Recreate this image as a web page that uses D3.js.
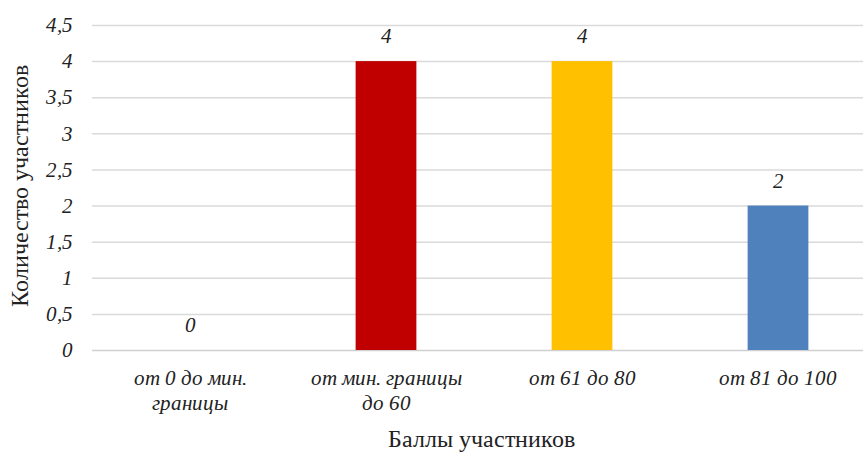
<!DOCTYPE html>
<html>
<head>
<meta charset="utf-8">
<script src="https://cdn.jsdelivr.net/npm/d3@7"></script>
<style>
  @font-face { font-family: "ChartSerif"; font-style: normal; font-weight: 400;
    src: local("Liberation Serif"), local("LiberationSerif"), local("Liberation Serif Regular"), local("LiberationSerif-Regular"); }
  @font-face { font-family: "ChartSerif"; font-style: italic; font-weight: 400;
    src: local("Liberation Serif Italic"), local("LiberationSerif-Italic"); }
  html, body { margin: 0; padding: 0; background: #fff; }
  svg { display: block; }
  svg text { font-family: "ChartSerif", "Liberation Serif"; }
</style>
</head>
<body>
<svg id="chart" width="863" height="453"></svg>
<script>
// Распределение участников по баллам
const categories = [
  ["от 0 до мин.", "границы"],
  ["от мин. границы", "до 60"],
  ["от 61 до 80"],
  ["от 81 до 100"]
];
const values = [0, 4, 4, 2];
const colors = ["#4F81BD", "#C00000", "#FFC000", "#4F81BD"];
const yTicks = [0, 0.5, 1, 1.5, 2, 2.5, 3, 3.5, 4, 4.5];

const W = 863;
const svg = d3.select("#chart");

const x = d3.scaleBand()
  .domain(d3.range(categories.length))
  .range([92, 876])
  .paddingInner(0.69)
  .paddingOuter(0.345);

const y = d3.scaleLinear().domain([0, 4.5]).range([350, 25]);

const fmt = v => String(v).replace(".", ",");

// Горизонтальная сетка
svg.append("g")
  .selectAll("line")
  .data(yTicks)
  .join("line")
  .attr("x1", 92).attr("x2", W)
  .attr("y1", d => y(d) + 0.5).attr("y2", d => y(d) + 0.5)
  .attr("stroke", d => d === 0 ? "#d0d0d0" : "#dadada")
  .attr("stroke-width", 1.5);

// Подписи оси Y
const yAxis = d3.axisLeft(y).tickValues(yTicks).tickFormat(fmt).tickSize(0).tickPadding(0);
const gy = svg.append("g").attr("transform", "translate(73,0)").call(yAxis);
gy.select(".domain").remove();
gy.attr("font-family", null).attr("font-size", null);
gy.selectAll("text")
  .attr("font-size", 21)
  .attr("font-style", "italic")
  .attr("fill", "#222");

// Столбцы
svg.append("g")
  .selectAll("rect")
  .data(values)
  .join("rect")
  .attr("x", (d, i) => x(i))
  .attr("width", x.bandwidth())
  .attr("y", d => y(d))
  .attr("height", d => y(0) - y(d))
  .attr("fill", (d, i) => colors[i]);

// Значения над столбцами
svg.selectAll("text.val")
  .data(values)
  .join("text")
  .attr("class", "val")
  .attr("x", (d, i) => x(i) + x.bandwidth() / 2)
  .attr("y", d => y(d) - 18)
  .attr("text-anchor", "middle")
  .attr("font-style", "italic")
  .attr("font-size", 21)
  .attr("fill", "#222")
  .text(d => fmt(d));

// Подписи категорий
categories.forEach((lines, i) => {
  lines.forEach((line, j) => {
    svg.append("text")
      .attr("x", x(i) + x.bandwidth() / 2)
      .attr("y", 385 + j * 25)
      .attr("text-anchor", "middle")
      .attr("font-style", "italic")
      .attr("font-size", 21)
      .attr("fill", "#222")
      .text(line);
  });
});

// Заголовки осей
svg.append("text")
  .attr("x", 481).attr("y", 447)
  .attr("text-anchor", "middle")
  .attr("font-size", 24)
  .attr("fill", "#222")
  .text("Баллы участников");

svg.append("text")
  .attr("transform", "translate(28,186) rotate(-90)")
  .attr("text-anchor", "middle")
  .attr("font-size", 24)
  .attr("fill", "#222")
  .text("Количество участников");
</script>
</body>
</html>
